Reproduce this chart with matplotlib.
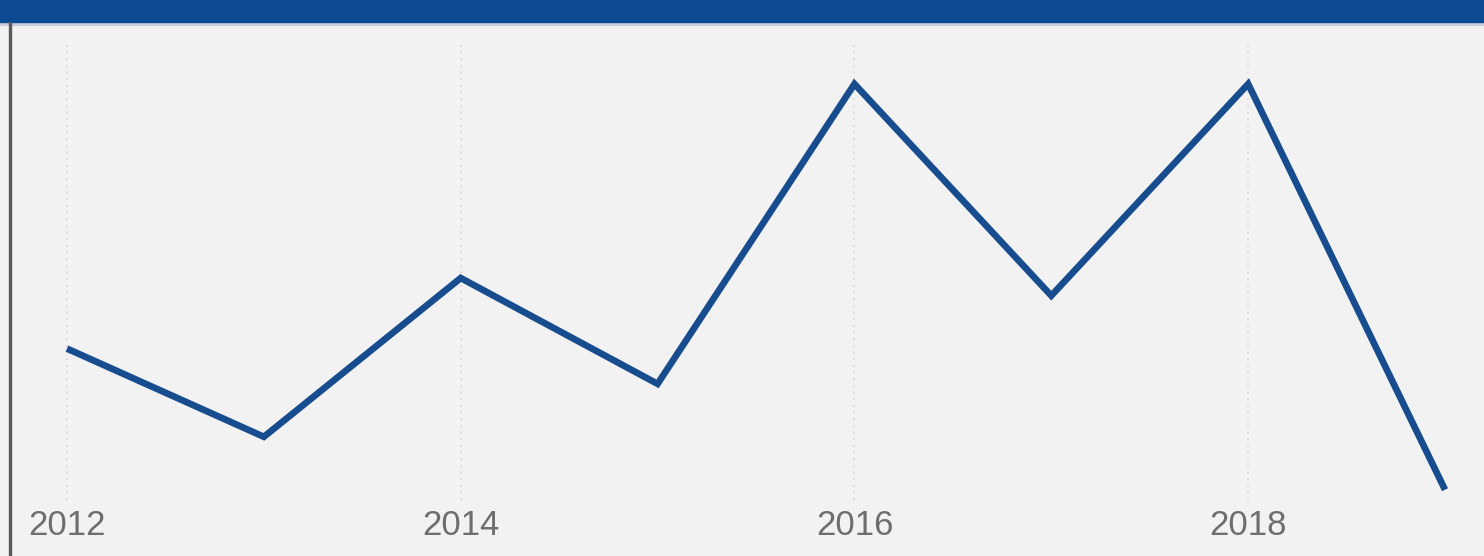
import matplotlib
matplotlib.use("Agg")
import matplotlib.pyplot as plt
from matplotlib.transforms import blended_transform_factory

years = [2012, 2013, 2014, 2015, 2016, 2017, 2018, 2019]
values = [4.1, 2.6, 5.3, 3.5, 8.6, 5.0, 8.6, 1.7]
tick_years = [2012, 2014, 2016, 2018]
tick_labels = ["2012", "2014", "2016", "2018"]

W, H = 1484, 556
fig = plt.figure(figsize=(W / 100, H / 100), dpi=100)
fig.patch.set_facecolor("#f2f2f2")

# plot panel below the header band, right of the dark left border
ax = fig.add_axes([11 / W, 0, 1 - 11 / W, (H - 22) / H])
ax.set_facecolor("#f2f2f2")
ax.set_xlim(2011.7155, 2019.198)
ax.set_ylim(0.573, 9.654)
for s in ax.spines.values():
    s.set_visible(False)
ax.set_xticks([])
ax.set_yticks([])

# dotted vertical guides
for yr in tick_years:
    ax.axvline(yr, ymin=0.105, ymax=0.957, color="#d6d6d6", lw=1.2,
               linestyle=(0, (1, 3)), zorder=1)

ax.plot(years, values, color="#174c8e", lw=4.8, solid_joinstyle="miter",
        solid_capstyle="butt", zorder=3)

trans = blended_transform_factory(ax.transData, ax.transAxes)
for yr, lab in zip(tick_years, tick_labels):
    ax.text(yr, 0.058, lab, transform=trans, ha="center", va="center",
            fontsize=25, color="#6e6e6e", family="Liberation Sans")

# header band
fig.patches.append(plt.Rectangle((0, 1 - 22 / H), 1, 22 / H,
                                 transform=fig.transFigure,
                                 color="#0d4a94", zorder=5))
fig.patches.append(plt.Rectangle((0, 1 - 25 / H), 1, 3 / H,
                                 transform=fig.transFigure,
                                 color="#c8cfdb", zorder=4))
# left border
fig.patches.append(plt.Rectangle((9 / W, 0), 2 / W, 1 - 22 / H,
                                 transform=fig.transFigure,
                                 color="#5a5a5a", zorder=5))

fig.savefig("out.png", dpi=100, facecolor=fig.get_facecolor())
